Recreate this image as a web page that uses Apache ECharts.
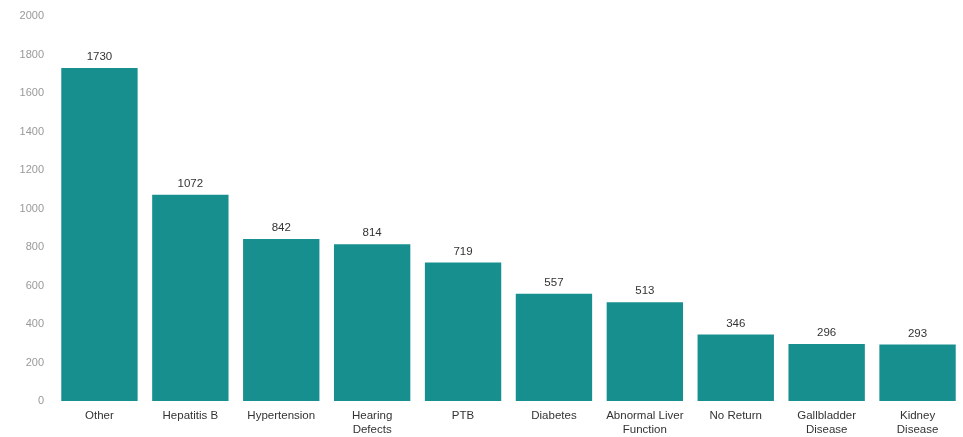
<!DOCTYPE html>
<html><head><meta charset="utf-8">
<script src="https://cdn.jsdelivr.net/npm/echarts@6/dist/echarts.min.js"></script>
<style>html,body{margin:0;padding:0;background:#fff}#c{width:963px;height:437px}</style>
</head><body><div id="c"></div>
<script>
const categories = ["Other","Hepatitis B","Hypertension","Hearing\nDefects","PTB","Diabetes","Abnormal Liver\nFunction","No Return","Gallbladder\nDisease","Kidney\nDisease"];
const values = [1730,1072,842,814,719,557,513,346,296,293];
const yTicks = {min:0, max:2000, interval:200};

const chart = echarts.init(document.getElementById('c'));
chart.setOption({
  animation:false,
  textStyle:{fontFamily:'Liberation Sans, Arial, sans-serif'},
  grid:{left:54, right:0, top:16, bottom:30, containLabel:false},
  xAxis:{type:'category', data:categories,
    axisLine:{show:false}, axisTick:{show:false},
    axisLabel:{color:'#333', fontSize:11.5, margin:8, lineHeight:14, interval:0}},
  yAxis:{type:'value', min:yTicks.min, max:yTicks.max, interval:yTicks.interval,
    splitLine:{show:false}, axisLine:{show:false}, axisTick:{show:false},
    axisLabel:{color:'#999', fontSize:11, margin:10, formatter:v=>String(v)}},
  series:[{type:'bar', data:values, barCategoryGap:'16%',
    itemStyle:{color:'#178f8f'},
    label:{show:true, position:'top', color:'#333', fontSize:11.5, distance:5}}]
});
</script></body></html>
